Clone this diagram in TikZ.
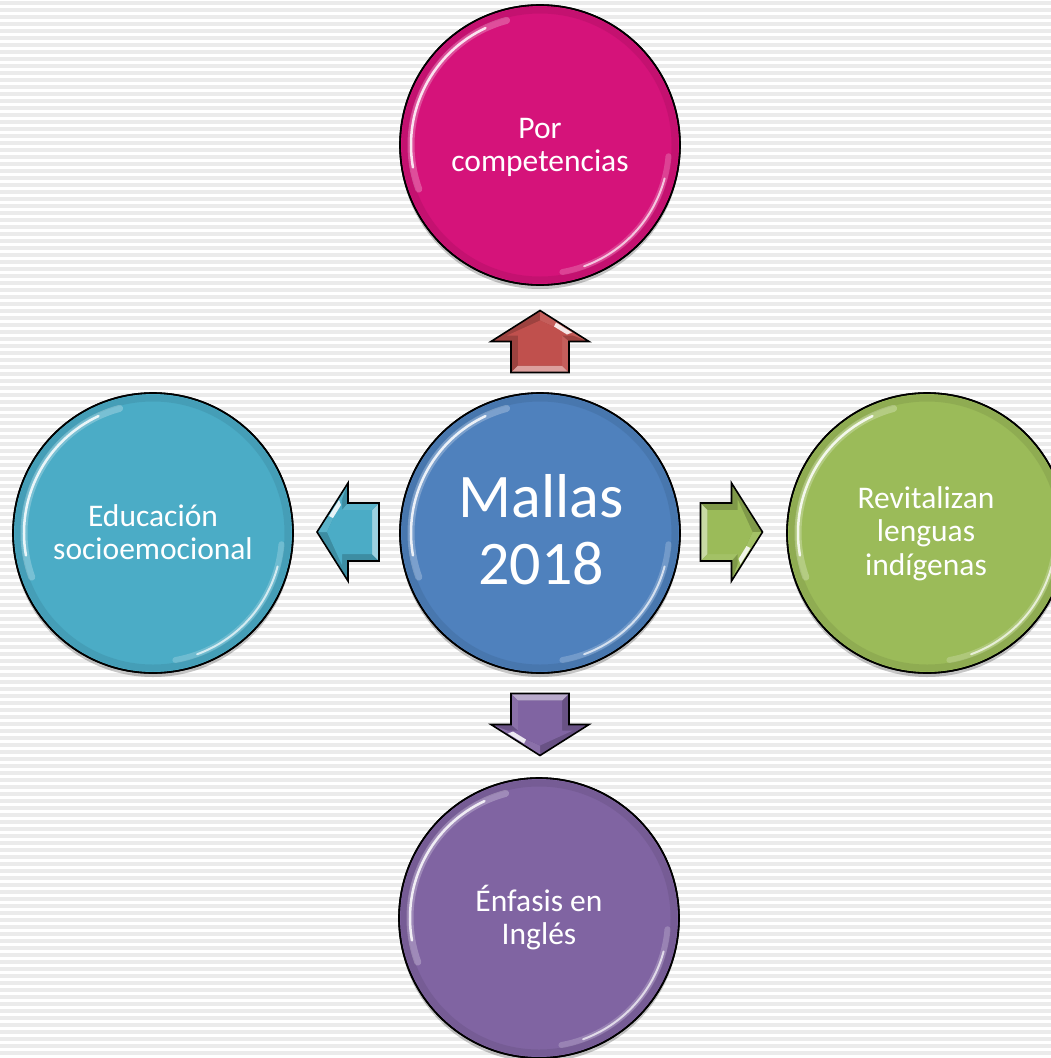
\documentclass[tikz,border=0pt]{standalone}
\usepackage{fontspec}
\setmainfont{Carlito}
\usetikzlibrary{shadows}
\definecolor{cmag}{HTML}{D5137A}
\definecolor{cblue}{HTML}{4F81BD}
\definecolor{cteal}{HTML}{4BACC6}
\definecolor{cgreen}{HTML}{9BBB59}
\definecolor{cpurple}{HTML}{8064A2}
\definecolor{cred}{HTML}{C0504D}
\definecolor{stripe}{HTML}{EBEBEB}
\newcommand\mlines[1]{\vtop{\lineskiplimit=-100pt\halign{\hfil##\hfil\cr#1\crcr}}}
\tikzset{
  ball/.style={circle, minimum size=280pt, inner sep=0pt, draw=black, line width=1.6pt, fill=#1,
    drop shadow={shadow xshift=0pt, shadow yshift=-4pt, opacity=.22, fill=black}},
  lbl/.style={text=white, inner sep=0pt, font=\fontsize{31.5}{33.5}\selectfont},
  biglbl/.style={text=white, inner sep=0pt, font=\fontsize{62}{67}\selectfont},
  pics/blockarrow/.style={code={
    \fill[#1!82!black] (-31,-29) -- (0,-29) -- (0,-49) -- (31,0) -- (0,49) -- (0,29) -- (-31,29) -- cycle;
    \fill[#1!55!white] (-31,-29) -- (-24,-22) -- (-24,22) -- (-31,29) -- cycle;
    \fill[#1!92!white] (-31,29) -- (-24,22) -- (6,22) -- (0,29) -- cycle;
    \fill[#1!92!white] (0,49) -- (6,33) -- (21,0) -- (31,0) -- cycle;
    \fill[#1] (-24,-22) -- (6,-22) -- (6,-33) -- (21,0) -- (6,33) -- (6,22) -- (-24,22) -- cycle;
    \fill[white, opacity=.85] (9,32) -- (19,16) -- (15,14) -- (7,27) -- cycle;
    \draw[black, line width=1.6pt, line join=miter] (-31,-29) -- (0,-29) -- (0,-49) -- (31,0) -- (0,49) -- (0,29) -- (-31,29) -- cycle;
  }}
}
\begin{document}
\begin{tikzpicture}[x=1pt, y=-1pt]
\useasboundingbox (0,0) rectangle (1051,1058);
\fill[white] (0,0) rectangle (1051,1058);
\foreach \k in {0,...,151} \fill[stripe] (0,7*\k+1) rectangle (1051,7*\k+5);

% circles
\node[ball=cmag]    (top) at (540,145) {};
\node[ball=cblue]   (mid) at (540,533) {};
\node[ball=cteal]   (lft) at (153,533) {};
\node[ball=cgreen]  (rgt) at (927,533) {};
\node[ball=cpurple] (bot) at (539,918) {};

% glossy edges
\foreach \n/\c in {top/cmag, mid/cblue, lft/cteal, rgt/cgreen, bot/cpurple} {
  \draw[\c!70!black, line width=7pt, opacity=.25] (\n.center) circle[radius=135pt];
  \draw[white, line width=7pt, opacity=.25, line cap=round] ([shift={(\n.center)}]105:129pt) arc[start angle=105, end angle=200, radius=129pt];
  \draw[white, line width=2.5pt, opacity=.85, line cap=round] ([shift={(\n.center)}]115:129pt) arc[start angle=115, end angle=190, radius=129pt];
  \draw[white, line width=6pt, opacity=.2, line cap=round] ([shift={(\n.center)}]280:129pt) arc[start angle=280, end angle=355, radius=129pt];
  \draw[white, line width=2pt, opacity=.7, line cap=round] ([shift={(\n.center)}]290:129pt) arc[start angle=290, end angle=345, radius=129pt];
  \draw[black, line width=1.6pt] (\n.center) circle[radius=140pt];
}

% labels
\node[lbl, anchor=base]    (ttop) at (540,138) {\mlines{Por\cr competencias}};
\node[biglbl, anchor=base] (tmid) at (541,517) {\mlines{Mallas\cr 2018}};
\node[lbl, anchor=base]    (tlft) at (153,526) {\mlines{Educación\cr socioemocional}};
\node[lbl, anchor=base]    (trgt) at (926,508) {\mlines{Revitalizan\cr lenguas\cr indígenas}};
\node[lbl, anchor=base]    (tbot) at (539,911) {\mlines{Énfasis en\cr Inglés}};

% block arrows
\pic[rotate=90]  (aup) at (540,341.5) {blockarrow=cred};
\pic[rotate=-90] (adn) at (540,724.5) {blockarrow=cpurple};
\pic[rotate=180] (alf) at (348,532) {blockarrow=cteal};
\pic             (arg) at (731.5,532) {blockarrow=cgreen};
\end{tikzpicture}
\end{document}
